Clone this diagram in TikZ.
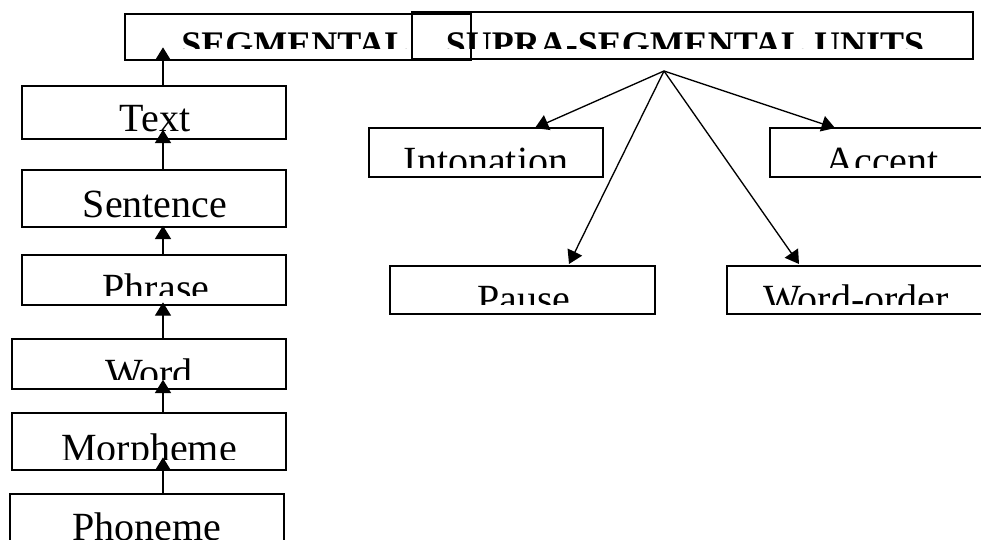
\documentclass[tikz,border=0pt]{standalone}
\usepackage{fontspec}
\setmainfont{Liberation Serif}
\usetikzlibrary{arrows.meta}

% box given by its two corners (pixel grid, y downwards)
\newcommand{\unitbox}[6][]{%
  \node[unit, #1, minimum width={(#4-#2)*0.75pt}, minimum height={(#5-#3)*0.75pt}] (#6) at (#2,#3) {};}
% label clipped to the inner part of its box
\newcommand{\unitlabel}[6]{%
  \begin{scope}
    \clip (#2.north west) rectangle ([yshift=#3]#2.south east);
    \node[#4] (#1) at (#5) {#6};
  \end{scope}}

\begin{document}
\begin{tikzpicture}[x=0.75pt,y=-0.75pt,
  unit/.style={draw, line width=1pt, inner sep=0pt, outer sep=0pt, anchor=north west},
  lbl/.style={font=\fontsize{30}{30}\selectfont, anchor=base, inner sep=0pt},
  head/.style={font=\bfseries\fontsize{27}{27}\selectfont, anchor=base, inner sep=0pt},
  link/.style={line width=1pt, -{Triangle[width=12pt,length=10pt]}}]
\useasboundingbox (0,0) rectangle (981,539);

% headings
\unitbox{125}{14}{471}{60}{seg}
\unitbox[line width=1.6pt]{412}{12}{973}{59}{supra}
\unitlabel{segT}{seg}{9pt}{head}{295,56}{SEGMENTAL}
\unitlabel{supraT}{supra}{8pt}{head}{685,56}{SUPRA-SEGMENTAL UNITS}

% segmental hierarchy
\unitbox{22}{86}{286}{139}{text}
\unitbox{22}{170}{286}{227}{sentence}
\unitbox{22}{255}{286}{305}{phrase}
\unitbox{12}{339}{286}{389}{word}
\unitbox{12}{413}{286}{470}{morpheme}
\unitbox{10}{494}{284}{570}{phoneme}

\unitlabel{textT}{text}{0pt}{lbl}{155,131}{Text}
\unitlabel{sentenceT}{sentence}{0pt}{lbl}{155,217}{Sentence}
\unitlabel{phraseT}{phrase}{7.5pt}{lbl}{156,301}{Phrase}
\unitlabel{wordT}{word}{7pt}{lbl}{149,386}{Word}
\unitlabel{morphemeT}{morpheme}{8pt}{lbl}{149,461}{Morpheme}
\unitlabel{phonemeT}{phoneme}{0pt}{lbl}{147,540}{Phoneme}

\draw[link] (text.north -| 163,0) -- ([yshift=9.5pt]seg.south -| 163,0);
\draw[link] (sentence.north -| 163,0) -- ([yshift=7pt]text.south -| 163,0);
\draw[link] (phrase.north -| 163,0) -- ([yshift=1pt]sentence.south -| 163,0);
\draw[link] (word.north -| 163,0) -- ([yshift=2pt]phrase.south -| 163,0);
\draw[link] (morpheme.north -| 163,0) -- ([yshift=7pt]word.south -| 163,0);
\draw[link] (phoneme.north -| 163,0) -- ([yshift=9.5pt]morpheme.south -| 163,0);

% supra-segmental units
\unitbox{369}{128}{603}{177}{intonation}
\unitbox{770}{128}{995}{177}{accent}
\unitbox{390}{266}{655}{314}{pause}
\unitbox{727}{266}{995}{314}{wordorder}

\unitlabel{intonationT}{intonation}{7pt}{lbl}{486,174}{Intonation}
\unitlabel{accentT}{accent}{7pt}{lbl}{882,174}{Accent}
\unitlabel{pauseT}{pause}{7pt}{lbl}{524,312}{Pause}
\unitlabel{wordorderT}{wordorder}{7pt}{lbl}{856,312}{Word-order}

\coordinate (apex) at (664,71);
\draw[link] (apex) -- (intonation.north -| 535,0);
\draw[link] (apex) -- (accent.north -| 835,0);
\draw[link] (apex) -- ([yshift=1.5pt]pause.north -| 569,0);
\draw[link] (apex) -- ([yshift=1.5pt]wordorder.north -| 799,0);
\end{tikzpicture}
\end{document}
